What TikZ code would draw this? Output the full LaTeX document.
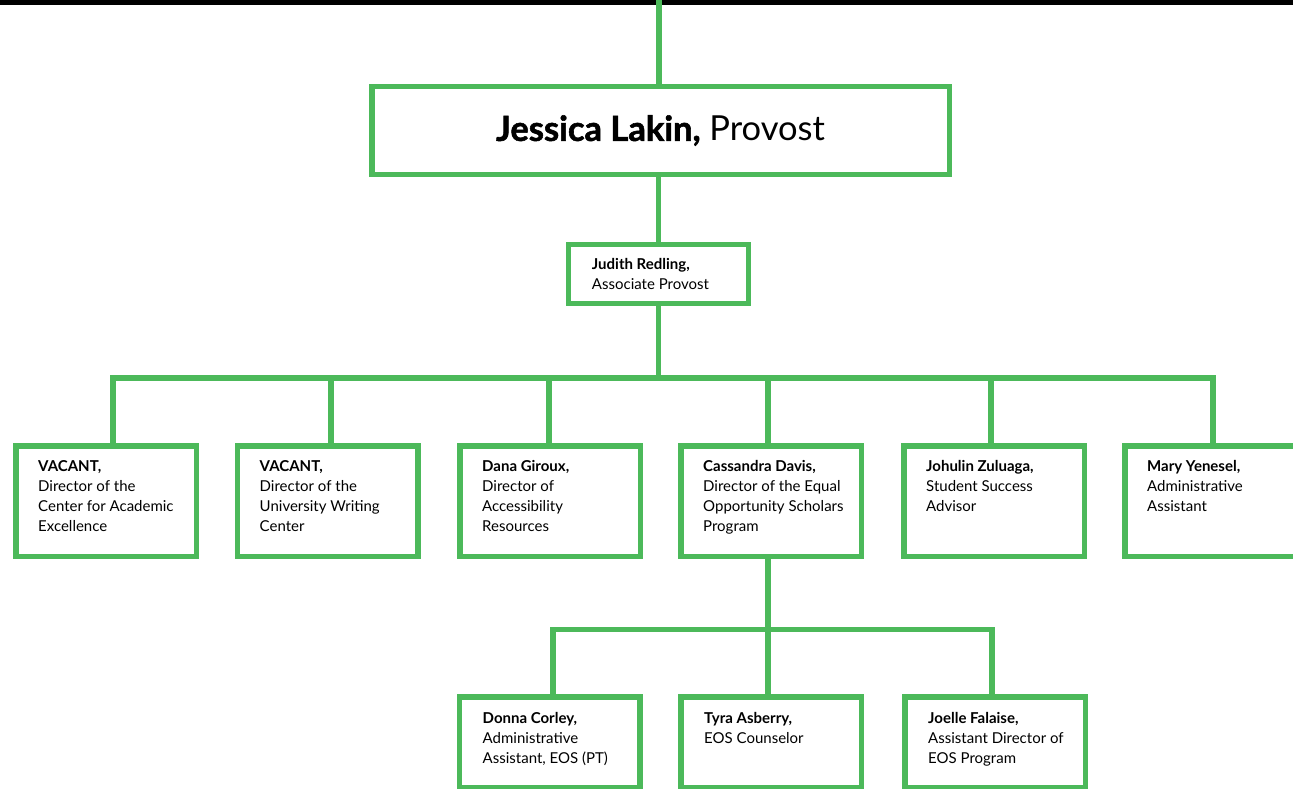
\documentclass[tikz,border=0pt]{standalone}
\usepackage{fontspec}
\setmainfont{Lato}
\newcommand\heavytext[1]{{\bfseries\addfontfeature{FakeBold=1.6}#1}}
\definecolor{orggreen}{RGB}{76,185,90}
\begin{document}
\begin{tikzpicture}[x=1pt,y=-1pt,
  box/.style={draw=orggreen,line width=5.5pt,rectangle,inner sep=0pt,minimum width=180.5pt,minimum height=110.5pt},
  lowbox/.style={box,minimum height=91pt},
  conn/.style={draw=orggreen,line width=5.5pt},
  txt/.style={anchor=base west,inner sep=0pt,font=\fontsize{15}{20}\selectfont}]
\useasboundingbox (0,0) rectangle (1293,789);
\fill[black] (0,0) rectangle (1293,5);
% top levels
\node[box,minimum width=577.5pt,minimum height=87.5pt,font=\fontsize{34.5}{40}\selectfont] (prov) at (660.5,130.5) {\heavytext{Jessica Lakin,} Provost};
\node[box,minimum width=180pt,minimum height=59pt] (jud) at (658.5,274) {};
\node[txt] (tjud) at ([shift={(26,27.5)}]jud.north west) {\parbox[t]{170pt}{\raggedright\textbf{Judith Redling,}\\Associate Provost}};
% second row
\node[box] (b1) at (106,501) {};
\node[box] (b2) at (327.5,501) {};
\node[box] (b3) at (550,501) {};
\node[box] (b4) at (771,501) {};
\node[box] (b5) at (994,501) {};
\node[box] (b6) at (1215,501) {};
\node[txt] (t1) at ([shift={(25,28)}]b1.north west) {\parbox[t]{170pt}{\raggedright\textbf{VACANT,}\\Director of the\\Center for Academic\\Excellence}};
\node[txt] (t2) at ([shift={(25,28)}]b2.north west) {\parbox[t]{170pt}{\raggedright\textbf{VACANT,}\\Director of the\\University Writing\\Center}};
\node[txt] (t3) at ([shift={(25,28)}]b3.north west) {\parbox[t]{170pt}{\raggedright\textbf{Dana Giroux,}\\Director of\\Accessibility\\Resources}};
\node[txt] (t4) at ([shift={(25,28)}]b4.north west) {\parbox[t]{170pt}{\raggedright\textbf{Cassandra Davis,}\\Director of the Equal\\Opportunity Scholars\\Program}};
\node[txt] (t5) at ([shift={(25,28)}]b5.north west) {\parbox[t]{170pt}{\raggedright\textbf{Johulin Zuluaga,}\\Student Success\\Advisor}};
\node[txt] (t6) at ([shift={(25,28)}]b6.north west) {\parbox[t]{170pt}{\raggedright\textbf{Mary Yenesel,}\\Administrative\\Assistant}};
% third row
\node[lowbox] (b7) at (549.5,742.25) {};
\node[lowbox] (b8) at (771,742.25) {};
\node[lowbox] (b9) at (995,742.25) {};
\node[txt] (t7) at ([shift={(26,29)}]b7.north west) {\parbox[t]{170pt}{\raggedright\textbf{Donna Corley,}\\Administrative\\Assistant, EOS (PT)}};
\node[txt] (t8) at ([shift={(26,29)}]b8.north west) {\parbox[t]{170pt}{\raggedright\textbf{Tyra Asberry,}\\EOS Counselor}};
\node[txt] (t9) at ([shift={(26,29)}]b9.north west) {\parbox[t]{170pt}{\raggedright\textbf{Joelle Falaise,}\\Assistant Director of\\EOS Program}};
% connectors
\coordinate (topc) at (659,0);
\coordinate (j1) at (113,378);
\coordinate (j2) at (331,378);
\coordinate (j3) at (549,378);
\coordinate (j4) at (768,378);
\coordinate (j5) at (991,378);
\coordinate (j6) at (1213,378);
\coordinate (k1) at (553,629.5);
\coordinate (k2) at (768,629.5);
\coordinate (k3) at (992,629.5);
\draw[conn] (topc) -- (topc |- prov.north);
\draw[conn] (jud.north) -- (jud.north |- prov.south);
\draw[conn] (jud.south) -- (jud.south |- j1);
\draw[conn] (j1 |- b1.north) -- (j1) -- (j6) -- (j6 |- b6.north);
\draw[conn] (j2) -- (j2 |- b2.north);
\draw[conn] (j3) -- (j3 |- b3.north);
\draw[conn] (j4) -- (j4 |- b4.north);
\draw[conn] (j5) -- (j5 |- b5.north);
\draw[conn] (k2 |- b4.south) -- (k2 |- b8.north);
\draw[conn] (k1 |- b7.north) -- (k1) -- (k3) -- (k3 |- b9.north);
\end{tikzpicture}
\end{document}
